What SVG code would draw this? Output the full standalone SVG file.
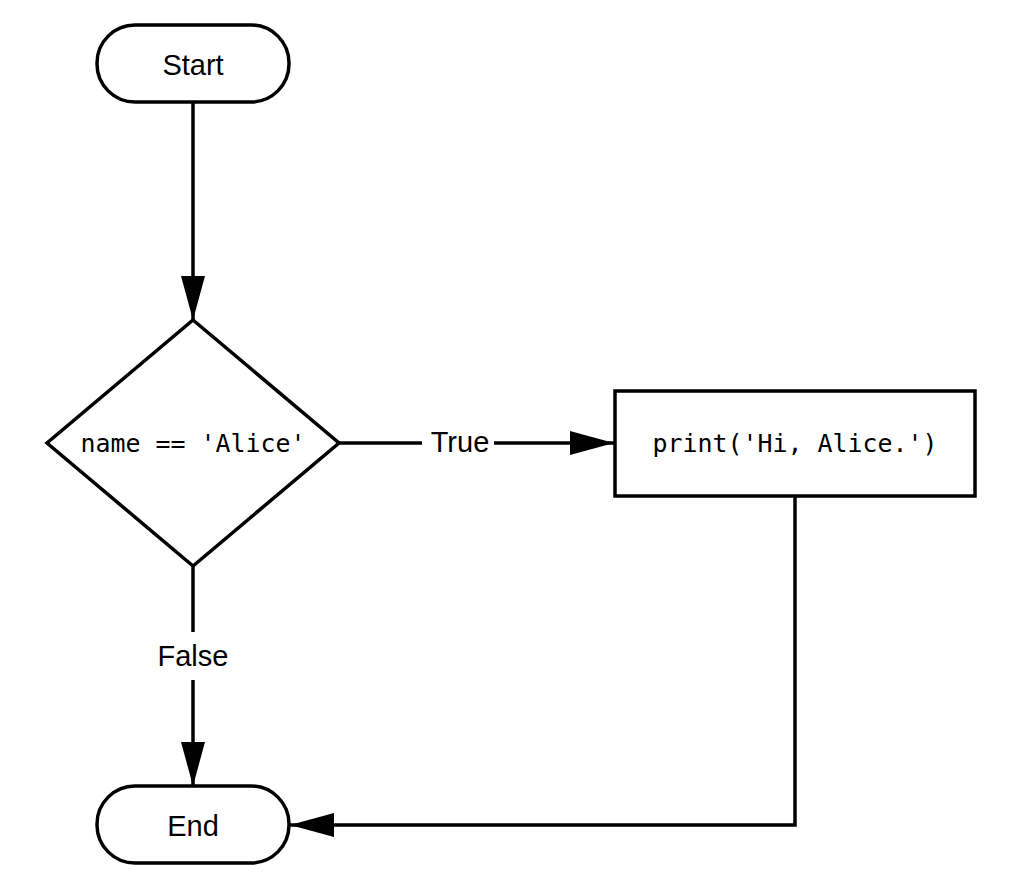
<svg xmlns="http://www.w3.org/2000/svg" width="1024" height="881" viewBox="0 0 1024 881">
<style>
.s{fill:#fff;stroke:#000;stroke-width:3.5}
.l{fill:none;stroke:#000;stroke-width:3.5}
.t{font-family:"Liberation Sans",Arial,sans-serif;font-size:29px;fill:#000;text-anchor:middle;dominant-baseline:central}
.m{font-family:"DejaVu Sans Mono",monospace;font-size:25px;fill:#000;text-anchor:middle;dominant-baseline:central}
</style>
<defs><marker id="a" viewBox="0 0 44 24" refX="44" refY="12" markerWidth="44" markerHeight="24" markerUnits="userSpaceOnUse" orient="auto"><path d="M0,0L44,12L0,24Z" fill="#000"/></marker></defs>
<rect width="1024" height="881" fill="#fff"/>
<g id="connectors">
<path class="l" d="M193,102V320" marker-end="url(#a)"/>
<path class="l" d="M339,443H422"/>
<path class="l" d="M494,443H614" marker-end="url(#a)"/>
<text class="t" x="460" y="442">True</text>
<path class="l" d="M193,566V632"/>
<path class="l" d="M193,680V786" marker-end="url(#a)"/>
<text class="t" x="193" y="656">False</text>
<path class="l" d="M795,496V825H290" marker-end="url(#a)"/>
</g>
<g id="start"><rect class="s" x="97" y="25" width="192" height="77" rx="38"/><text class="t" x="193" y="65">Start</text></g>
<g id="decision"><path class="s" d="M193,320L339,443L193,566L47,443Z"/><text class="m" x="193" y="443" textLength="225" lengthAdjust="spacingAndGlyphs">name == 'Alice'</text></g>
<g id="print"><rect class="s" x="615" y="391" width="360" height="105"/><text class="m" x="795" y="443" textLength="285" lengthAdjust="spacingAndGlyphs">print('Hi, Alice.')</text></g>
<g id="end"><rect class="s" x="97" y="786" width="192" height="77" rx="38"/><text class="t" x="193" y="826">End</text></g>
</svg>
